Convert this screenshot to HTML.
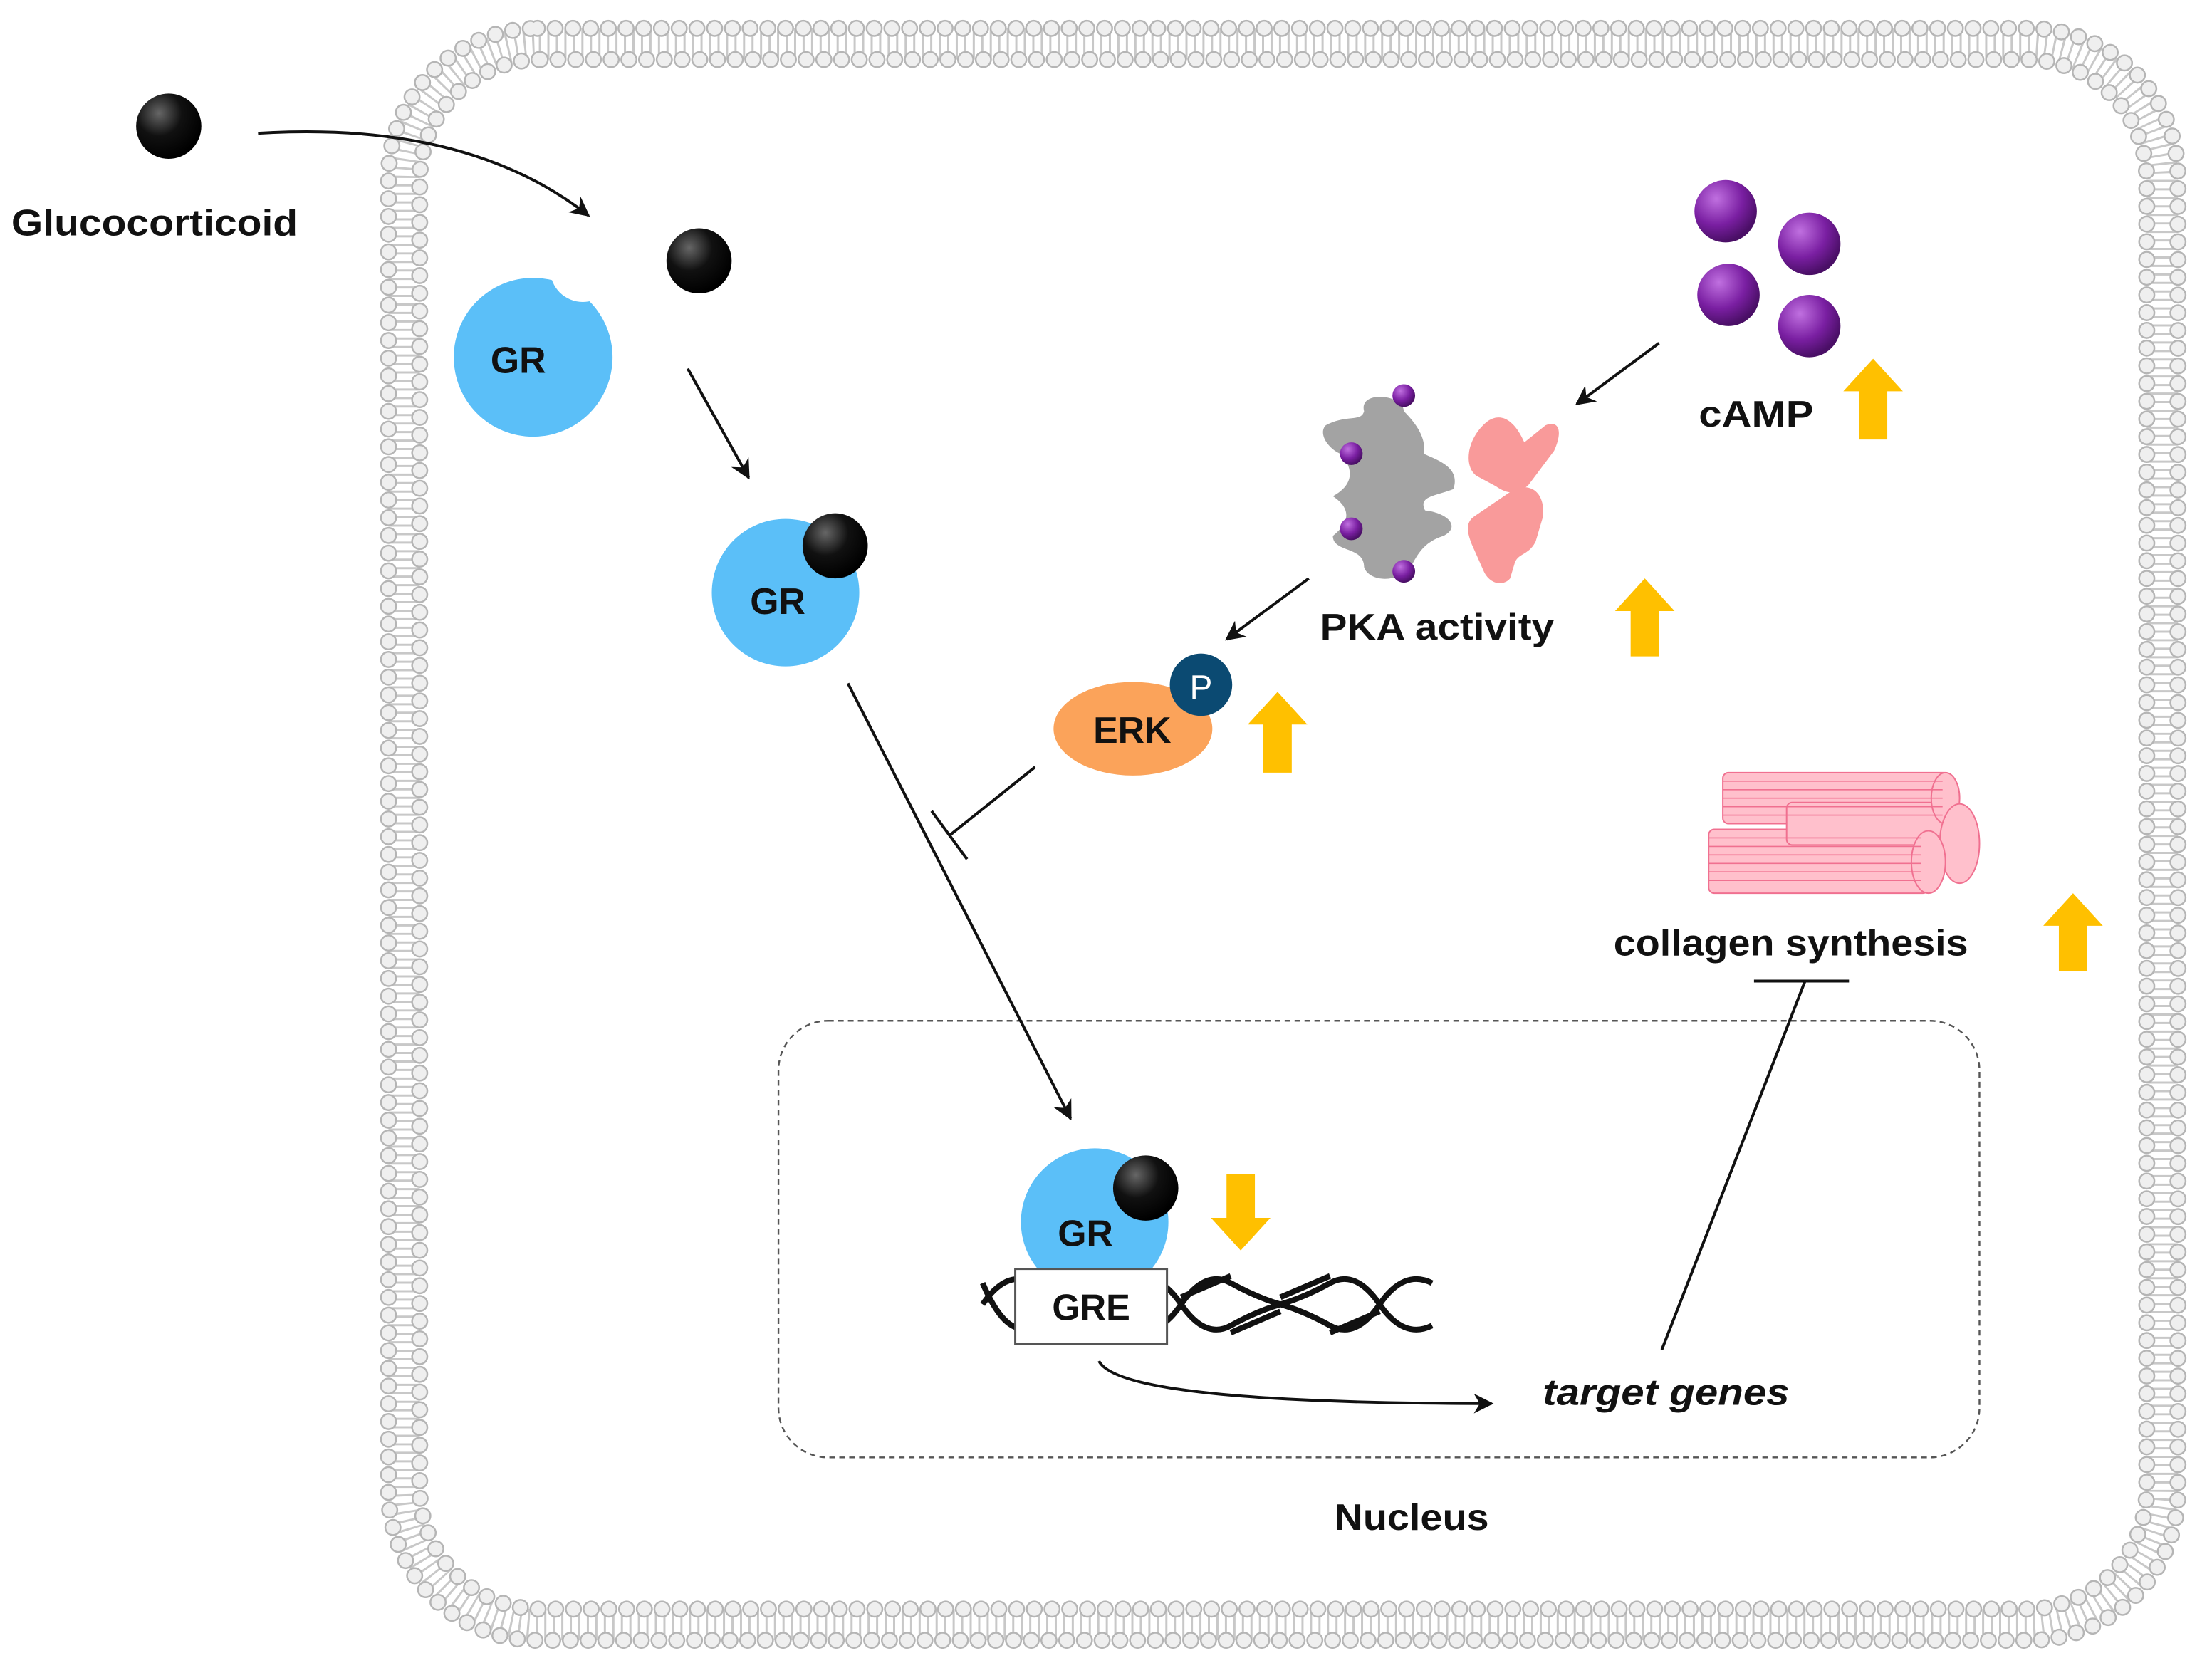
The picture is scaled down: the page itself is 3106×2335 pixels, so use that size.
<!DOCTYPE html>
<html><head><meta charset="utf-8"><style>
html,body{margin:0;padding:0;background:#fff;}
svg{display:block;}
text{font-family:"Liberation Sans",sans-serif;font-weight:bold;fill:#111;}
</style></head><body>
<svg width="3106" height="2335" viewBox="0 0 1560 1173" preserveAspectRatio="none" xmlns="http://www.w3.org/2000/svg">
<defs>
<marker id="ah" viewBox="0 0 10 10" refX="9" refY="5" markerWidth="7" markerHeight="7" orient="auto"><path d="M0,0 L10,5 L0,10 L3,5 z" fill="#111"/></marker>
<radialGradient id="bk" cx="0.35" cy="0.3" r="0.7"><stop offset="0" stop-color="#666"/><stop offset="0.5" stop-color="#111"/><stop offset="1" stop-color="#000"/></radialGradient>
<radialGradient id="pu" cx="0.35" cy="0.3" r="0.7"><stop offset="0" stop-color="#c070e0"/><stop offset="0.6" stop-color="#7a1fa2"/><stop offset="1" stop-color="#4a0f66"/></radialGradient>
</defs>
<!-- membrane -->
<g fill="none">
<rect x="285" y="31" width="1240" height="1115" rx="95" stroke="#c8c8c8" stroke-width="22" stroke-dasharray="1.5 4.5"/>
<rect x="274" y="20" width="1262" height="1137" rx="105" stroke="#b5b5b5" stroke-width="12" stroke-linecap="round" stroke-dasharray="0 12.5"/>
<rect x="274" y="20" width="1262" height="1137" rx="105" stroke="#efefef" stroke-width="9.5" stroke-linecap="round" stroke-dasharray="0 12.5"/>
<rect x="296" y="42" width="1218" height="1093" rx="85" stroke="#b5b5b5" stroke-width="12" stroke-linecap="round" stroke-dasharray="0 12.5"/>
<rect x="296" y="42" width="1218" height="1093" rx="85" stroke="#efefef" stroke-width="9.5" stroke-linecap="round" stroke-dasharray="0 12.5"/>
</g>
<!-- nucleus -->
<rect x="549" y="720" width="847" height="308" rx="35" fill="none" stroke="#555" stroke-width="1.2" stroke-dasharray="4 3"/>
<!-- glucocorticoid -->
<circle cx="119" cy="89" r="23" fill="url(#bk)"/>
<text x="8" y="166" font-size="26" textLength="202" lengthAdjust="spacingAndGlyphs">Glucocorticoid</text>
<path d="M182,94 Q330,85 415,152" fill="none" stroke="#111" stroke-width="2" marker-end="url(#ah)"/>
<circle cx="493" cy="184" r="23" fill="url(#bk)"/>
<!-- GR 1 -->
<circle cx="376" cy="252" r="56" fill="#5bbff8"/>
<circle cx="411" cy="190" r="23" fill="#fff"/>
<text x="346" y="263" font-size="26" textLength="39" lengthAdjust="spacingAndGlyphs">GR</text>
<line x1="485" y1="260" x2="528" y2="337" stroke="#111" stroke-width="2" marker-end="url(#ah)"/>
<!-- GR 2 -->
<circle cx="554" cy="418" r="52" fill="#5bbff8"/>
<circle cx="589" cy="385" r="23" fill="url(#bk)"/>
<text x="529" y="433" font-size="26" textLength="39" lengthAdjust="spacingAndGlyphs">GR</text>
<line x1="598" y1="482" x2="755" y2="789" stroke="#111" stroke-width="2" marker-end="url(#ah)"/>
<!-- ERK inhibition -->
<line x1="730" y1="541" x2="670" y2="589" stroke="#111" stroke-width="2"/>
<line x1="657" y1="572" x2="682" y2="606" stroke="#111" stroke-width="2"/>
<ellipse cx="799" cy="514" rx="56" ry="33" fill="#fba35a"/>
<text x="771" y="524" font-size="26" textLength="55" lengthAdjust="spacingAndGlyphs">ERK</text>
<circle cx="847" cy="483" r="22" fill="#0b4a72"/>
<text x="847" y="493" font-size="24" text-anchor="middle" style="fill:#fff;font-weight:normal">P</text>
<!-- PKA -->
<line x1="923" y1="408" x2="865" y2="451" stroke="#111" stroke-width="2" marker-end="url(#ah)"/>
<line x1="1170" y1="242" x2="1112" y2="285" stroke="#111" stroke-width="2" marker-end="url(#ah)"/>
<path d="M935,300 C950,292 960,298 962,290 C958,275 990,278 990,290 C1000,300 1006,310 1004,320 C1015,325 1030,330 1025,345 C1012,350 1000,350 1005,360 C1022,362 1030,372 1018,378 C1005,382 1000,390 995,400 C985,412 965,410 962,400 C962,385 940,390 940,378 C950,370 955,360 940,350 C955,342 955,330 945,320 C935,315 930,305 935,300 Z" fill="#a3a3a3"/>
<circle cx="990" cy="279" r="8" fill="url(#pu)"/>
<circle cx="953" cy="320" r="8" fill="url(#pu)"/>
<circle cx="953" cy="373" r="8" fill="url(#pu)"/>
<circle cx="990" cy="403" r="8" fill="url(#pu)"/>
<path d="M1048,298 C1058,290 1068,296 1075,312 L1090,300 C1100,296 1102,305 1096,318 L1078,342 C1070,350 1062,348 1055,343 L1042,336 C1032,330 1034,310 1048,298 Z" fill="#f99a9a"/>
<path d="M1040,364 L1068,345 C1082,340 1090,350 1088,365 L1083,382 C1078,392 1070,390 1068,398 L1065,408 C1060,414 1050,412 1046,402 L1038,384 C1034,374 1034,368 1040,364 Z" fill="#f99a9a"/>
<text x="931" y="451" font-size="26" textLength="165" lengthAdjust="spacingAndGlyphs">PKA activity</text>
<!-- cAMP -->
<circle cx="1217" cy="149" r="22" fill="url(#pu)"/>
<circle cx="1276" cy="172" r="22" fill="url(#pu)"/>
<circle cx="1219" cy="208" r="22" fill="url(#pu)"/>
<circle cx="1276" cy="230" r="22" fill="url(#pu)"/>
<text x="1198" y="301" font-size="26" textLength="81" lengthAdjust="spacingAndGlyphs">cAMP</text>
<!-- yellow arrows -->
<g fill="#ffc000">
<path d="M1321,253 L1342,276 L1331,276 L1331,310 L1311,310 L1311,276 L1300,276 Z"/>
<path d="M1160,408 L1181,431 L1170,431 L1170,463 L1150,463 L1150,431 L1139,431 Z"/>
<path d="M901,488 L922,511 L911,511 L911,545 L891,545 L891,511 L880,511 Z"/>
<path d="M1462,630 L1483,653 L1472,653 L1472,685 L1452,685 L1452,653 L1441,653 Z"/>
<path d="M875,882 L896,859 L885,859 L885,828 L865,828 L865,859 L854,859 Z"/>
</g>
<!-- collagen -->
<g stroke="#f07090" stroke-width="1" fill="#ffc0cc">
<rect x="1215" y="545" width="160" height="36" rx="4"/>
<rect x="1205" y="585" width="155" height="45" rx="4"/>
<rect x="1260" y="566" width="120" height="30" rx="4"/>
<ellipse cx="1372" cy="563" rx="10" ry="18"/>
<ellipse cx="1382" cy="595" rx="14" ry="28"/>
<ellipse cx="1360" cy="608" rx="12" ry="22"/>
</g>
<g stroke="#f07090" stroke-width="0.8">
<path d="M1215,551H1370M1215,557H1370M1215,563H1370M1215,569H1370M1215,575H1370M1205,591H1355M1205,597H1355M1205,603H1355M1205,609H1355M1205,615H1355M1205,621H1355"/>
</g>
<text x="1138" y="674" font-size="26" textLength="250" lengthAdjust="spacingAndGlyphs">collagen synthesis</text>
<line x1="1237" y1="692" x2="1304" y2="692" stroke="#111" stroke-width="2"/>
<line x1="1273" y1="692" x2="1172" y2="952" stroke="#111" stroke-width="2"/>
<!-- DNA -->
<g fill="none" stroke="#111" stroke-width="4">
<path d="M693,920 Q710,895 728,905 T763,920 T798,935 T833,920 T868,905 T903,920 T938,935 T973,920 T1010,905"/>
<path d="M693,905 Q710,945 728,935 T763,920 T798,905 T833,920 T868,935 T903,920 T938,905 T973,920 T1010,935"/>
<path d="M833,915 L868,900 M868,940 L903,925 M903,915 L938,900 M938,940 L973,925"/>
</g>
<!-- GR 3 -->
<circle cx="772" cy="862" r="52" fill="#5bbff8"/>
<circle cx="808" cy="838" r="23" fill="url(#bk)"/>
<text x="746" y="879" font-size="26" textLength="39" lengthAdjust="spacingAndGlyphs">GR</text>
<rect x="716" y="895" width="107" height="53" fill="#fff" stroke="#555" stroke-width="1.5"/>
<text x="742" y="931" font-size="26" textLength="55" lengthAdjust="spacingAndGlyphs">GRE</text>
<path d="M775,960 Q790,990 1052,990" fill="none" stroke="#111" stroke-width="2" marker-end="url(#ah)"/>
<text x="1088" y="991" font-size="26" font-style="italic" textLength="174" lengthAdjust="spacingAndGlyphs">target genes</text>
<text x="941" y="1079" font-size="26" textLength="109" lengthAdjust="spacingAndGlyphs">Nucleus</text>
</svg>
</body></html>
